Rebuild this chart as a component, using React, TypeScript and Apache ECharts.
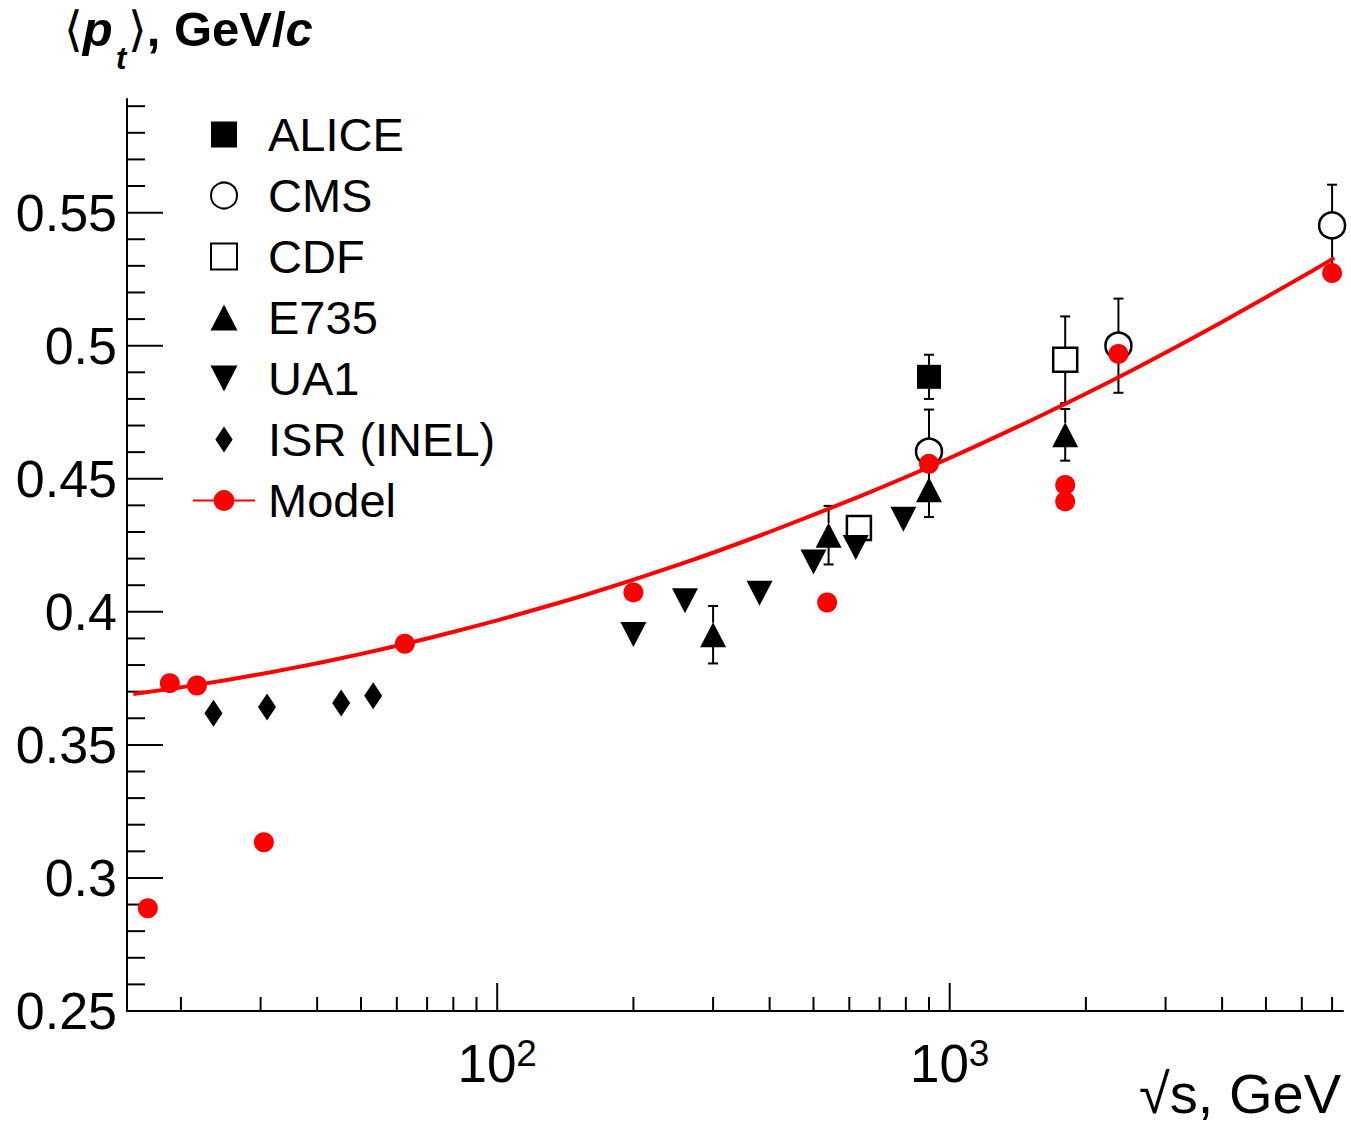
import React, { useEffect, useRef } from 'react';
import * as echarts from 'echarts';

// axis ranges
const X_MIN = 15.2;
const X_MAX = 7400;
const Y_MIN = 0.25;
const Y_MAX = 0.5927;

// tick values / labels
const xMajorTicks = [100, 1000];
const xMinorTicks = [20, 30, 40, 50, 60, 70, 80, 90, 200, 300, 400, 500, 600, 700, 800, 900, 2000, 3000, 4000, 5000, 6000, 7000];
const xTickLabels = ['{b|10}{s|2}', '{b|10}{s|3}'];
const yMajorTicks = [0.25, 0.3, 0.35, 0.4, 0.45, 0.5, 0.55];
const yMinorTicks = [0.26, 0.27, 0.28, 0.29, 0.31, 0.32, 0.33, 0.34, 0.36, 0.37, 0.38, 0.39, 0.41, 0.42, 0.43, 0.44, 0.46, 0.47, 0.48, 0.49, 0.51, 0.52, 0.53, 0.54, 0.56, 0.57, 0.58, 0.59];
const yTickLabels = ['0.25', '0.3', '0.35', '0.4', '0.45', '0.5', '0.55'];

// data: sqrt(s) [GeV], <pt> [GeV/c], error
const aliceS = [900];
const aliceP = [0.4883];
const aliceErr = [0.0083];

const cmsS = [900, 2360, 7000];
const cmsP = [0.4602, 0.5, 0.5452];
const cmsErr = [0.0158, 0.0177, 0.0153];

const cdfS = [630, 1800];
const cdfP = [0.4315, 0.4947];
const cdfErr = [0, 0.0163];

const e735S = [300, 540, 900, 1800];
const e735P = [0.3914, 0.4288, 0.4459, 0.4665];
const e735Err = [0.0108, 0.011, 0.0103, 0.0097];

const ua1S = [200, 260, 380, 500, 620, 790];
const ua1P = [0.3915, 0.4042, 0.407, 0.4187, 0.4242, 0.4348];

const isrS = [23.6, 31.0, 45.2, 53.2];
const isrP = [0.3619, 0.3642, 0.3657, 0.3685];

const modelS = [16.9, 18.9, 21.7, 30.5, 62.5, 200, 536, 900, 1800, 1800, 2360, 7000];
const modelP = [0.2886, 0.3732, 0.3723, 0.3134, 0.388, 0.4073, 0.4035, 0.4556, 0.4477, 0.4415, 0.4969, 0.5273];

const curveS = [15.7, 19.95, 25.1, 31.6, 39.8, 50.1, 63.1, 79.4, 100, 158.5, 251, 398, 631, 1000, 1585, 2512, 3981, 6310, 7079];
const curveP = [0.3691, 0.3716, 0.3743, 0.3773, 0.3806, 0.3842, 0.3881, 0.3923, 0.3968, 0.4066, 0.4176, 0.4299, 0.4433, 0.4578, 0.4736, 0.4905, 0.5087, 0.528, 0.533];

const FONT = 'Liberation Sans, Arial, Helvetica, sans-serif';

const pairs = (s: number[], p: number[]) => s.map((v, i) => [v, p[i]]);
const errRows = (s: number[], p: number[], e: number[], gap: number) =>
  s.map((v, i) => [v, p[i], e[i], gap]).filter((r) => r[2] > 0);

const SQUARE = 'path://M0,0L24,0L24,24L0,24Z';
const TRI_UP = 'path://M13,0L26,25L0,25Z';
const TRI_DOWN = 'path://M0,0L26,0L13,25Z';
const DIAMOND = 'path://M9,0L18,13.5L9,27L0,13.5Z';

export default function App() {
  const ref = useRef<HTMLDivElement>(null);
  useEffect(() => {
    document.body.style.margin = '0';
    const chart = echarts.init(ref.current!, null, { renderer: 'svg' });

    const xTickData = [
      ...xMajorTicks.map((v) => [v, Y_MIN, 28]),
      ...xMinorTicks.map((v) => [v, Y_MIN, 14]),
    ];
    const yTickData = [
      ...yMajorTicks.map((v) => [X_MIN, v, 36]),
      ...yMinorTicks.map((v) => [X_MIN, v, 18]),
    ];
    const errData = [
      ...errRows(aliceS, aliceP, aliceErr, 12),
      ...errRows(cmsS, cmsP, cmsErr, 13),
      ...errRows(cdfS, cdfP, cdfErr, 12),
      ...errRows(e735S, e735P, e735Err, 12),
    ];

    const stroke = { stroke: '#000', lineWidth: 2 };

    const option: any = {
      animation: false,
      backgroundColor: '#fff',
      grid: { left: 127, top: 99, width: 1216, height: 912, containLabel: false },
      xAxis: {
        type: 'log',
        logBase: 10,
        min: X_MIN,
        max: X_MAX,
        axisLine: { show: true, onZero: false, lineStyle: { color: '#000', width: 2 } },
        axisTick: { show: false },
        splitLine: { show: false },
        minorTick: { show: false },
        axisLabel: {
          customValues: xMajorTicks,
          margin: 24,
          formatter: (v: number) => {
            const i = xMajorTicks.findIndex((t) => Math.abs(Math.log10(v) - Math.log10(t)) < 1e-6);
            return i >= 0 ? xTickLabels[i] : '';
          },
          rich: {
            b: { fontFamily: FONT, fontSize: 53, lineHeight: 56, color: '#000' },
            s: { fontFamily: FONT, fontSize: 37, lineHeight: 30, color: '#000', verticalAlign: 'top' },
          },
        },
      },
      yAxis: {
        type: 'value',
        min: Y_MIN,
        max: Y_MAX,
        interval: 0.05,
        axisLine: { show: true, lineStyle: { color: '#000', width: 2 } },
        axisTick: { show: false },
        splitLine: { show: false },
        axisLabel: {
          margin: 10,
          fontFamily: FONT,
          fontSize: 52,
          color: '#000',
          showMaxLabel: false,
          formatter: (v: number) => {
            const i = yMajorTicks.findIndex((t) => Math.abs(v - t) < 1e-6);
            return i >= 0 ? yTickLabels[i] : '';
          },
        },
      },
      legend: {
        orient: 'vertical',
        left: 187,
        top: 106,
        padding: 5,
        itemWidth: 62,
        itemHeight: 26,
        itemGap: 14,
        selectedMode: false,
        symbolKeepAspect: true,
        data: ['ALICE', 'CMS', 'CDF', 'E735', 'UA1', 'ISR (INEL)', 'Model'],
        textStyle: { fontFamily: FONT, fontSize: 47, lineHeight: 47, color: '#000', padding: [0, 0, 0, 8] },
      },
      graphic: [
        {
          type: 'text', left: 64, top: 4, z: 10,
          style: {
            text: '{a|⟨}{p|p}',
            rich: {
              a: { fontFamily: 'DejaVu Sans', fontSize: 48, fill: '#000', lineHeight: 50 },
              p: { fontFamily: FONT, fontSize: 49, fontWeight: 'bold', fontStyle: 'italic', fill: '#000', lineHeight: 50 },
            },
          },
        },
        {
          type: 'text', left: 116, top: 43, z: 10,
          style: { text: 't', fontFamily: FONT, fontSize: 31, fontWeight: 'bold', fontStyle: 'italic', fill: '#000' },
        },
        {
          type: 'text', left: 128, top: 4, z: 10,
          style: {
            text: '{a|⟩}{b|, GeV/}{c|c}',
            rich: {
              a: { fontFamily: 'DejaVu Sans', fontSize: 48, fill: '#000', lineHeight: 50 },
              b: { fontFamily: FONT, fontSize: 49, fontWeight: 'bold', fill: '#000', lineHeight: 50 },
              c: { fontFamily: FONT, fontSize: 49, fontWeight: 'bold', fontStyle: 'italic', fill: '#000', lineHeight: 50 },
            },
          },
        },
        {
          type: 'text', x: 1341, y: 1093, z: 10,
          style: {
            text: '√s, GeV', fontFamily: FONT, fontSize: 56, lineHeight: 50,
            fill: '#000', align: 'right', verticalAlign: 'middle',
          },
        },
      ],
      series: [
        {
          type: 'custom', name: 'xticks', silent: true, z: 5,
          encode: { x: 0, y: 1 },
          data: xTickData,
          renderItem: (params: any, api: any) => {
            const p = api.coord([api.value(0), api.value(1)]);
            const len = api.value(2);
            return { type: 'line', shape: { x1: p[0], y1: p[1], x2: p[0], y2: p[1] - len }, style: stroke };
          },
        },
        {
          type: 'custom', name: 'yticks', silent: true, z: 5,
          encode: { x: 0, y: 1 },
          data: yTickData,
          renderItem: (params: any, api: any) => {
            const p = api.coord([api.value(0), api.value(1)]);
            const len = api.value(2);
            return { type: 'line', shape: { x1: p[0], y1: p[1], x2: p[0] + len, y2: p[1] }, style: stroke };
          },
        },
        {
          type: 'custom', name: 'errors', silent: true, z: 2,
          encode: { x: 0, y: 1 },
          data: errData,
          renderItem: (params: any, api: any) => {
            const x = api.value(0), y = api.value(1), e = api.value(2), g = api.value(3);
            const c = api.coord([x, y]);
            const t = api.coord([x, y + e]);
            const b = api.coord([x, y - e]);
            const children: any[] = [];
            if (c[1] - g > t[1]) {
              children.push({ type: 'line', shape: { x1: c[0], y1: c[1] - g, x2: c[0], y2: t[1] }, style: stroke });
              children.push({ type: 'line', shape: { x1: c[0] - 5, y1: t[1], x2: c[0] + 5, y2: t[1] }, style: stroke });
            }
            if (c[1] + g < b[1]) {
              children.push({ type: 'line', shape: { x1: c[0], y1: c[1] + g, x2: c[0], y2: b[1] }, style: stroke });
              children.push({ type: 'line', shape: { x1: c[0] - 5, y1: b[1], x2: c[0] + 5, y2: b[1] }, style: stroke });
            }
            return { type: 'group', children };
          },
        },
        {
          type: 'scatter', name: 'CDF', z: 3, data: pairs(cdfS, cdfP),
          symbol: SQUARE, symbolSize: 24,
          itemStyle: { color: 'rgba(255,255,255,0)', borderColor: '#000', borderWidth: 2.5, opacity: 1 },
        },
        {
          type: 'scatter', name: 'CMS', z: 3, data: pairs(cmsS, cmsP),
          symbol: 'circle', symbolSize: 26,
          itemStyle: { color: 'rgba(255,255,255,0)', borderColor: '#000', borderWidth: 2.5, opacity: 1 },
        },
        {
          type: 'scatter', name: 'UA1', z: 4, data: pairs(ua1S, ua1P),
          symbol: TRI_DOWN, symbolSize: [26, 25],
          itemStyle: { color: '#000', opacity: 1 },
        },
        {
          type: 'scatter', name: 'E735', z: 4, data: pairs(e735S, e735P),
          symbol: TRI_UP, symbolSize: [26, 25],
          itemStyle: { color: '#000', opacity: 1 },
        },
        {
          type: 'scatter', name: 'ALICE', z: 4, data: pairs(aliceS, aliceP),
          symbol: SQUARE, symbolSize: 24,
          itemStyle: { color: '#000', opacity: 1 },
        },
        {
          type: 'scatter', name: 'ISR (INEL)', z: 4, data: pairs(isrS, isrP),
          symbol: DIAMOND, symbolSize: [18, 27],
          itemStyle: { color: '#000', opacity: 1 },
        },
        {
          type: 'line', name: 'Model', z: 6, data: pairs(curveS, curveP),
          smooth: 0.2, showSymbol: false, symbol: 'circle', symbolSize: 20,
          lineStyle: { color: '#ff0000', width: 4 },
          itemStyle: { color: '#ff0000' },
        },
        {
          type: 'scatter', name: 'Model', z: 7, data: pairs(modelS, modelP),
          symbol: 'circle', symbolSize: 20,
          itemStyle: { color: '#ff0000', opacity: 1 },
        },
      ],
    };

    chart.setOption(option);
    return () => chart.dispose();
  }, []);
  return <div ref={ref} style={{ width: 1351, height: 1127 }} />;
}
